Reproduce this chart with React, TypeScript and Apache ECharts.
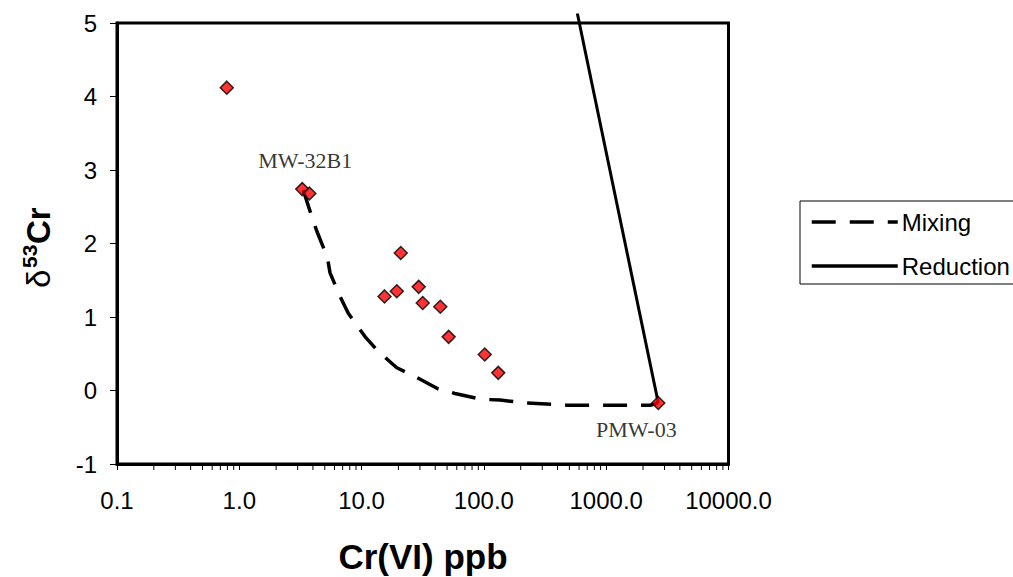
import React, { useEffect, useRef } from "react";
import * as echarts from "echarts";

// Measured samples: Cr(VI) concentration (ppb) and δ53Cr (‰)
const sampleCr = [0.79, 3.27, 3.74, 20.9, 15.4, 19.4, 29.3, 31.6, 44.0, 51.5, 101.6, 131, 2667];
const sampleD53 = [4.12, 2.74, 2.68, 1.87, 1.28, 1.35, 1.41, 1.19, 1.14, 0.73, 0.49, 0.24, -0.17];
const sampleNames = ["", "MW-32B1", "", "", "", "", "", "", "", "", "", "", "PMW-03"];

// Mixing model curve
const mixingCr = [3.33, 3.84, 4.3, 5.25, 5.52, 6.66, 7.78, 10.7, 13.7, 19.4, 27.4, 42.4, 58.0, 96, 135.5, 224, 475, 2280, 2667];
const mixingD53 = [2.73, 2.41, 2.17, 1.81, 1.6, 1.28, 1.05, 0.73, 0.53, 0.31, 0.19, 0.02, -0.04, -0.12, -0.13, -0.17, -0.2, -0.2, -0.17];

// Reduction (Rayleigh) line
const reductionCr = [2667, 581];
const reductionD53 = [-0.17, 5.13];

// Axis ticks
const xMin = 0.1;
const xMax = 10000;
const yMin = -1;
const yMax = 5;
const minorTickValues = [0.2, 0.3, 0.4, 0.5, 0.6, 0.7, 0.8, 0.9, 2, 3, 4, 5, 6, 7, 8, 9, 20, 30, 40, 50, 60, 70, 80, 90, 200, 300, 400, 500, 600, 700, 800, 900, 2000, 3000, 4000, 5000, 6000, 7000, 8000, 9000];

const SANS = "'Liberation Sans', Arial, sans-serif";
const SERIF = "'Liberation Serif', 'Times New Roman', serif";

export default function App() {
  const ref = useRef<HTMLDivElement>(null);

  useEffect(() => {
    if (!ref.current) return;
    const chart = echarts.init(ref.current, null, { renderer: "svg" });

    const scatterData = sampleCr.map((x, i) => {
      const item: any = { value: [x, sampleD53[i]] };
      if (sampleNames[i] === "MW-32B1") {
        item.label = {
          show: true,
          formatter: sampleNames[i],
          position: "top",
          distance: 10,
          offset: [3, 0],
          fontFamily: SERIF,
          fontSize: 22,
          color: "#000",
        };
      } else if (sampleNames[i] === "PMW-03") {
        item.label = {
          show: true,
          formatter: sampleNames[i],
          position: "bottom",
          distance: 8,
          offset: [-22, 0],
          fontFamily: SERIF,
          fontSize: 22,
          color: "#000",
        };
      }
      return item;
    });

    const option: any = {
      animation: false,
      backgroundColor: "#fff",
      grid: {
        left: 117,
        top: 23,
        right: 284.5,
        bottom: 113,
        show: true,
        borderColor: "#000",
        borderWidth: 3,
        backgroundColor: "transparent",
      },
      xAxis: {
        type: "log",
        logBase: 10,
        min: xMin,
        max: xMax,
        axisLine: { show: true, onZero: false, lineStyle: { color: "#000", width: 3 } },
        axisTick: { show: true, inside: false, length: 6, lineStyle: { color: "#000", width: 1 } },
        axisLabel: {
          margin: 24,
          fontFamily: SANS,
          fontSize: 24,
          color: "#000",
          showMinLabel: true,
          showMaxLabel: true,
          formatter: (v: number) => Number(v).toFixed(1),
        },
        splitLine: { show: false },
      },
      yAxis: {
        type: "value",
        min: yMin,
        max: yMax,
        interval: 1,
        axisLine: { show: true, onZero: false, lineStyle: { color: "#000", width: 3 } },
        axisTick: { show: true, inside: false, length: 7, lineStyle: { color: "#000", width: 1 } },
        axisLabel: { margin: 20, fontFamily: SANS, fontSize: 24, color: "#000" },
        splitLine: { show: false },
      },
      legend: {
        data: ["Mixing", "Reduction"],
        orient: "vertical",
        left: 800,
        top: 201,
        padding: [9, 300, 6, 10],
        itemGap: 20,
        itemWidth: 86,
        itemHeight: 14,
        itemStyle: { opacity: 0 },
        lineStyle: { width: 3.5 },
        borderColor: "#000",
        borderWidth: 1,
        backgroundColor: "#fff",
        textStyle: { fontFamily: SANS, fontSize: 24, color: "#000", padding: [0, 0, 0, -1] },
      },
      series: [
        {
          name: "Mixing",
          type: "line",
          data: mixingCr.map((x, i) => [x, mixingD53[i]]),
          symbol: "none",
          showSymbol: false,
          smooth: false,
          clip: false,
          lineStyle: { color: "#000", width: 3.5, type: [24, 14] },
          itemStyle: { color: "#000" },
          z: 2,
        },
        {
          name: "Reduction",
          type: "line",
          data: reductionCr.map((x, i) => [x, reductionD53[i]]),
          symbol: "none",
          showSymbol: false,
          clip: false,
          lineStyle: { color: "#000", width: 3 },
          itemStyle: { color: "#000" },
          z: 2,
        },
        {
          name: "Samples",
          type: "scatter",
          data: scatterData,
          symbol: "diamond",
          symbolSize: 13,
          itemStyle: { color: "#ff0000", borderColor: "#000", borderWidth: 1.5 },
          z: 5,
        },
        {
          name: "minorTicks",
          type: "custom",
          silent: true,
          clip: false,
          data: minorTickValues.map((v) => [v, yMin]),
          renderItem: (params: any, api: any) => {
            const p = api.coord([api.value(0), yMin]);
            return {
              type: "line",
              shape: { x1: p[0], y1: p[1] + 1.5, x2: p[0], y2: p[1] + 6 },
              style: { stroke: "#000", lineWidth: 1 },
            };
          },
          z: 3,
        },
      ],
      graphic: [
        {
          type: "text",
          x: 423,
          y: 556,
          style: {
            text: "Cr(VI) ppb",
            fontFamily: SANS,
            fontSize: 35,
            fontWeight: "bold",
            fill: "#000",
            textAlign: "center",
            textVerticalAlign: "middle",
          },
        },
        {
          type: "group",
          x: 38,
          y: 246,
          rotation: Math.PI / 2,
          children: [
            {
              type: "text",
              style: {
                text: "δ",
                x: -42,
                y: 0,
                fontFamily: SANS,
                fontSize: 33,
                fontWeight: "normal",
                fill: "#000",
                textAlign: "left",
                textVerticalAlign: "middle",
              },
            },
            {
              type: "text",
              style: {
                text: "53",
                x: -22,
                y: -9,
                fontFamily: SANS,
                fontSize: 21,
                fontWeight: "bold",
                fill: "#000",
                textAlign: "left",
                textVerticalAlign: "middle",
              },
            },
            {
              type: "text",
              style: {
                text: "Cr",
                x: 2,
                y: 0,
                fontFamily: SANS,
                fontSize: 33,
                fontWeight: "bold",
                fill: "#000",
                textAlign: "left",
                textVerticalAlign: "middle",
              },
            },
          ],
        },
      ],
    };

    chart.setOption(option);
    return () => chart.dispose();
  }, []);

  return (
    <div
      ref={ref}
      style={{ position: "absolute", left: 0, top: 0, width: 1013, height: 577, background: "#fff" }}
    />
  );
}
